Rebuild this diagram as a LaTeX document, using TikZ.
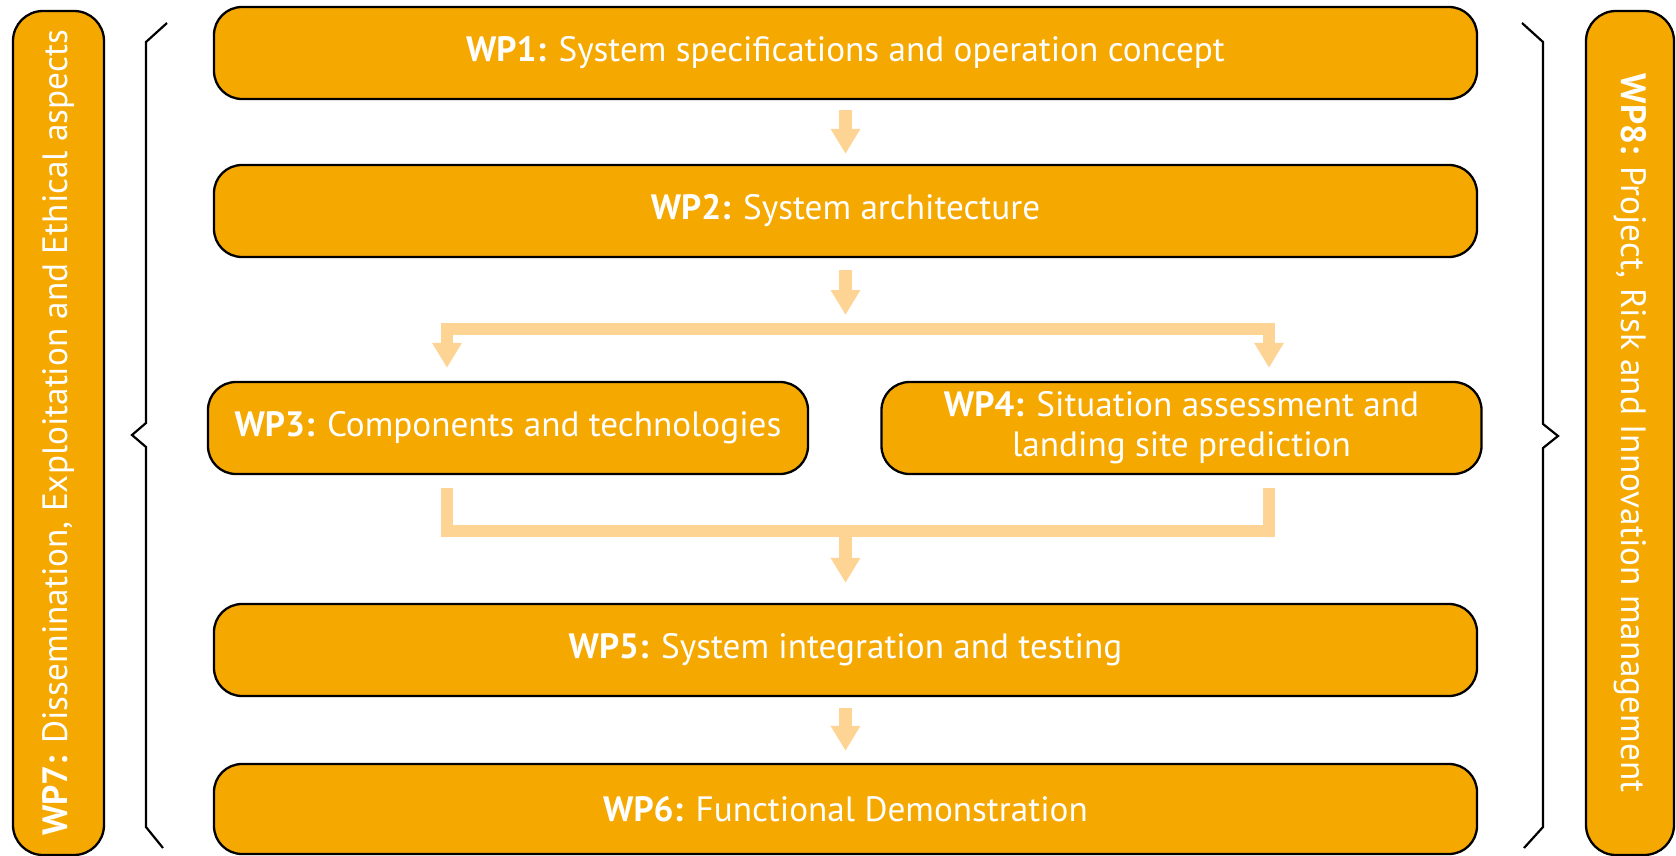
\documentclass[tikz,border=0pt]{standalone}
\usepackage{fontspec}
\setmainfont{PT Sans}
\usetikzlibrary{arrows.meta,calc}
\definecolor{wporange}{HTML}{F5A800}
\definecolor{flowcol}{HTML}{FDD493}
\begin{document}
\begin{tikzpicture}[x=0.5pt,y=-0.5pt,
  wp/.style={draw=black, line width=1.15pt, fill=wporange, rounded corners=14pt,
    text=white, font=\fontsize{17.6pt}{20pt}\selectfont, inner sep=0pt, align=center},
  wpside/.style={wp, rounded corners=15pt},
  flow/.style={draw=flowcol, line width=6.25pt},
  flowarrow/.style={flow, -{Triangle[width=14pt,length=12.5pt]}},
  bracket/.style={draw=black, line width=1.1pt}]
\useasboundingbox (0,0) rectangle (1676,856);
% boxes
\node[wp, minimum width=631.5pt, minimum height=46pt] (wp1) at (845.5,53) {\textbf{WP1:} System specifications and operation concept};
\node[wp, minimum width=631.5pt, minimum height=46pt] (wp2) at (845.5,211) {\textbf{WP2:} System architecture};
\node[wp, minimum width=300pt, minimum height=46pt] (wp3) at (508,428) {\textbf{WP3:} Components and technologies};
\node[wp, minimum width=300pt, minimum height=46pt] (wp4) at (1181.5,428) {\textbf{WP4:} Situation assessment and\\landing site prediction};
\node[wp, minimum width=631.5pt, minimum height=46pt] (wp5) at (845.5,650) {\textbf{WP5:} System integration and testing};
\node[wp, minimum width=631.5pt, minimum height=45pt] (wp6) at (845.5,809) {\textbf{WP6:} Functional Demonstration};
\node[wpside, rotate=90, minimum width=422pt, minimum height=45.5pt] (wp7) at (58.5,433) {\textbf{WP7:} Dissemination, Exploitation and Ethical aspects};
\node[wpside, rotate=-90, minimum width=422pt, minimum height=44pt] (wp8) at (1630,433) {\textbf{WP8:} Project, Risk and Innovation management};
% braces
\draw[bracket] (167,23) -- (146,42) -- (146,423) -- (132,435) -- (146,447) -- (146,827) -- (163,848);
\draw[bracket] (1522,23) -- (1543,42) -- (1543,424) -- (1558,436) -- (1543,448) -- (1543,827) -- (1524,848);
% flow coordinates
\coordinate (split) at (845.5,329);
\coordinate (sL) at (447,329);
\coordinate (sR) at (1269,329);
\coordinate (mL) at (447,531);
\coordinate (mR) at (1269,531);
\coordinate (merge) at (845.5,531);
% arrows
\draw[flowarrow] ($(wp1.south)+(0,10)$) -- ($(wp2.north)+(0,-10)$);
\draw[flowarrow] ($(wp2.south)+(0,12)$) -- ($(split)+(0,-14)$);
\draw[flowarrow] (split) -- (sL) -- ($(sL |- wp3.north)+(0,-13)$);
\draw[flowarrow] (split) -- (sR) -- ($(sR |- wp4.north)+(0,-13)$);
\draw[flow] ($(mL |- wp3.south)+(0,13)$) -- (mL) -- (mR) -- ($(mR |- wp4.south)+(0,13)$);
\draw[flowarrow] (merge) -- ($(wp5.north)+(0,-20)$);
\draw[flowarrow] ($(wp5.south)+(0,11)$) -- ($(wp6.north)+(0,-12)$);
\end{tikzpicture}
\end{document}
